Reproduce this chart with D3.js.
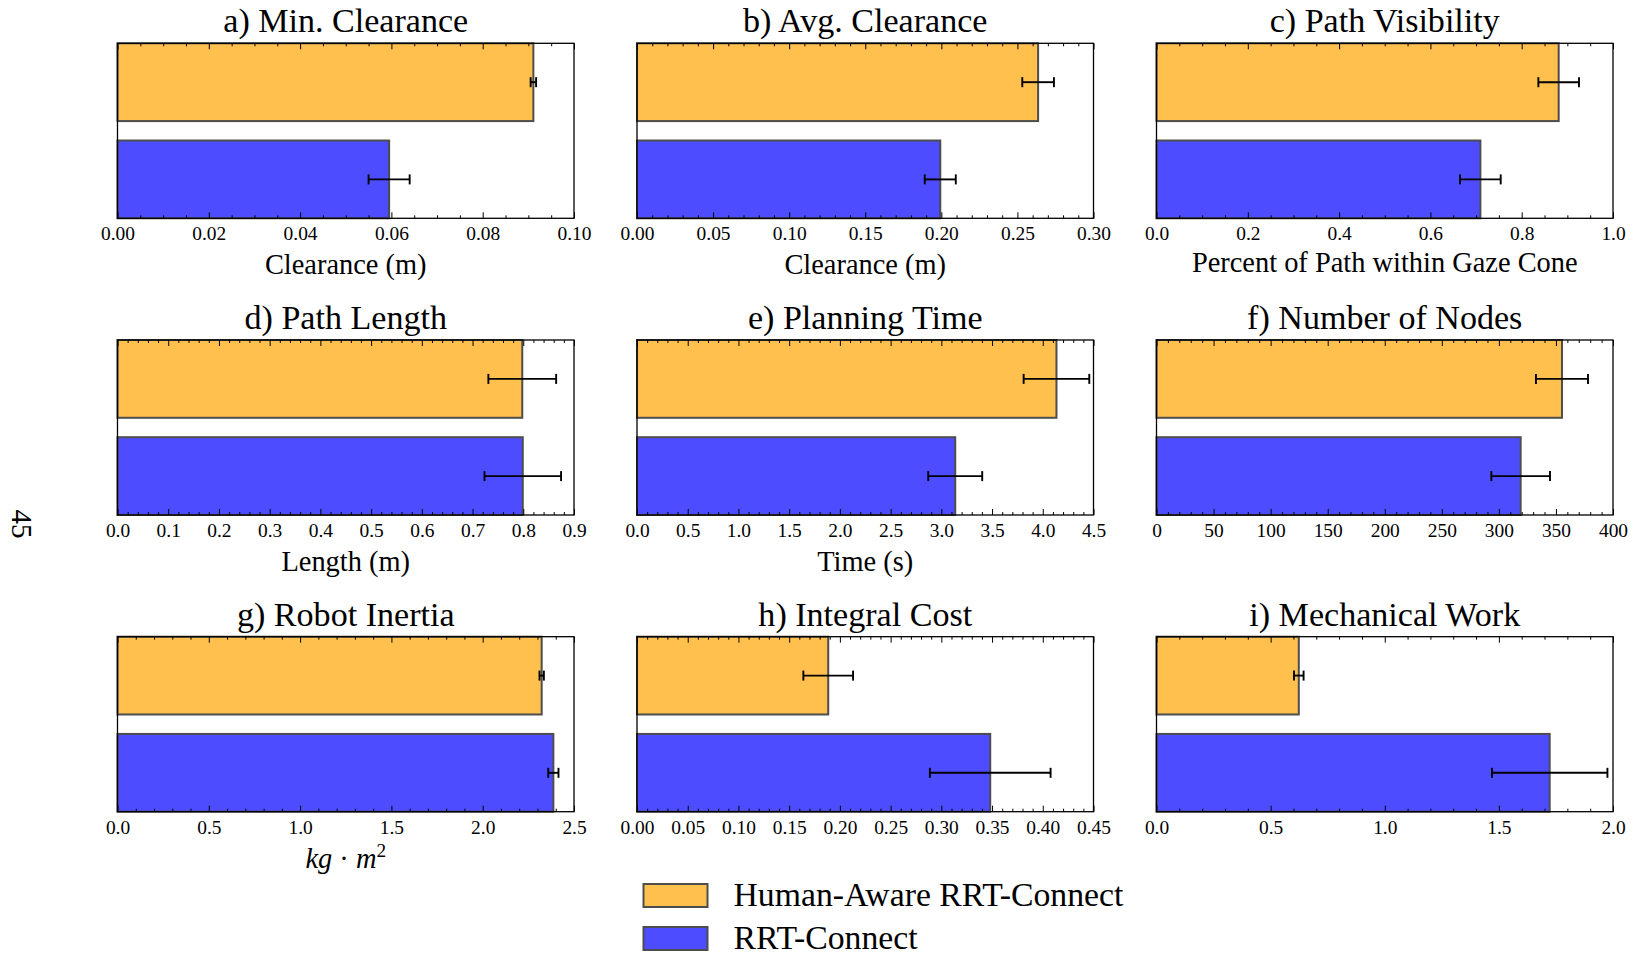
<!DOCTYPE html>
<html>
<head>
<meta charset="utf-8">
<script src="https://cdn.jsdelivr.net/npm/d3@7"></script>
<style>
  html, body { margin: 0; padding: 0; background: #fff; }
  svg { display: block; }
</style>
</head>
<body>
<div id="chart"></div>
<script>
// panel info
const panelTitles = ["a) Min. Clearance", "b) Avg. Clearance", "c) Path Visibility",
  "d) Path Length", "e) Planning Time", "f) Number of Nodes",
  "g) Robot Inertia", "h) Integral Cost", "i) Mechanical Work"];
const xLabels = ["Clearance (m)", "Clearance (m)", "Percent of Path within Gaze Cone",
  "Length (m)", "Time (s)", "", "kg·m2", "", ""];
const xMax = [0.10, 0.30, 1.0, 0.9, 4.5, 400, 2.5, 0.45, 2.0];
const majorStep = [0.02, 0.05, 0.2, 0.1, 0.5, 50, 0.5, 0.05, 0.5];
const minorDivs = [4, 5, 4, 5, 5, 5, 5, 5, 5];
const tickDecimals = [2, 2, 1, 1, 1, 0, 1, 2, 1];

// series
const seriesNames = ["Human-Aware RRT-Connect", "RRT-Connect"];
const humanAwareMean = [0.0911, 0.2636, 0.881, 0.798, 4.135, 355.3, 2.323, 0.1885, 0.6234];
const humanAwareErr  = [0.0006, 0.0104, 0.0445, 0.0668, 0.3235, 22.8, 0.012, 0.0245, 0.021];
const rrtMean = [0.0595, 0.1993, 0.7095, 0.799, 3.137, 319.1, 2.387, 0.3482, 1.7226];
const rrtErr  = [0.0045, 0.0102, 0.0445, 0.0755, 0.266, 25.7, 0.028, 0.0595, 0.253];

const W = 1635, H = 956;
const colors = ["#ffc04d", "#4d4dff"];
const edgeColor = "#4d4d4d";
const FONT = '"Liberation Serif", "DejaVu Serif", serif';

const colLeft = [117.5, 637, 1156.5];
const rowTop = [43.3, 340, 636.7];
const axW = 456.5, axH = 175;

const svg = d3.select("#chart").append("svg").attr("width", W).attr("height", H);

// size each text role so a sample string gets the width it has in the reference
const probe = svg.append("text").attr("font-family", FONT).attr("font-size", 100);
function sizeFor(sample, targetW) {
  probe.text(sample);
  return 100 * targetW / probe.node().getComputedTextLength();
}
const titleSize = sizeFor("a) Min. Clearance", 245);
const labelSize = sizeFor("Percent of Path within Gaze Cone", 386);
const tickSize = sizeFor("0.00", 34);
const legendSize = sizeFor("Human-Aware RRT-Connect", 390);
probe.remove();

panelTitles.forEach((title, i) => {
  const x0 = colLeft[i % 3], y0 = rowTop[Math.floor(i / 3)];
  const g = svg.append("g").attr("transform", `translate(${x0},${y0})`);

  const x = d3.scaleLinear().domain([0, xMax[i]]).range([0, axW]);
  const y = d3.scaleLinear().domain([-0.4, 1.4]).range([axH, 0]);

  // bars: HA at y=1, RRT at y=0
  const bars = [
    { pos: 1, v: humanAwareMean[i], e: humanAwareErr[i], c: colors[0] },
    { pos: 0, v: rrtMean[i], e: rrtErr[i], c: colors[1] }
  ];
  g.selectAll("rect.bar").data(bars).join("rect")
    .attr("class", "bar")
    .attr("x", x(0))
    .attr("y", d => y(d.pos + 0.4))
    .attr("width", d => x(d.v) - x(0))
    .attr("height", d => y(d.pos - 0.4) - y(d.pos + 0.4))
    .attr("fill", d => d.c)
    .attr("stroke", edgeColor)
    .attr("stroke-width", 2);

  // error bars
  const eb = g.selectAll("g.err").data(bars).join("g").attr("class", "err")
    .attr("stroke", "#000").attr("stroke-width", 1.9);
  eb.append("line")
    .attr("x1", d => x(d.v - d.e)).attr("x2", d => x(d.v + d.e))
    .attr("y1", d => y(d.pos)).attr("y2", d => y(d.pos));
  [-1, 1].forEach(s => {
    eb.append("line")
      .attr("x1", d => x(d.v + s * d.e)).attr("x2", d => x(d.v + s * d.e))
      .attr("y1", d => y(d.pos) - 5).attr("y2", d => y(d.pos) + 5);
  });

  // ticks, inward on top and bottom
  const nMajor = Math.round(xMax[i] / majorStep[i]);
  const majors = d3.range(nMajor + 1).map(k => k * majorStep[i]);
  const minorStep = majorStep[i] / minorDivs[i];
  const minors = d3.range(nMajor * minorDivs[i] + 1).map(k => k * minorStep)
    .filter((v, k) => k % minorDivs[i] !== 0);
  const fmt = d3.format(`.${tickDecimals[i]}f`);

  const axB = g.append("g").attr("transform", `translate(0,${axH})`)
    .call(d3.axisBottom(x).tickValues(majors).tickFormat(fmt).tickSizeInner(-6).tickSizeOuter(0).tickPadding(0));
  g.append("g").attr("transform", `translate(0,${axH})`)
    .call(d3.axisBottom(x).tickValues(minors).tickFormat("").tickSizeInner(-3).tickSizeOuter(0));
  g.append("g")
    .call(d3.axisTop(x).tickValues(majors).tickFormat("").tickSizeInner(-6).tickSizeOuter(0));
  g.append("g")
    .call(d3.axisTop(x).tickValues(minors).tickFormat("").tickSizeInner(-3).tickSizeOuter(0));
  g.selectAll(".domain").remove();
  g.selectAll(".tick line").attr("stroke", "#000").attr("stroke-width", 1);
  axB.selectAll("text").attr("font-family", FONT).attr("font-size", tickSize)
    .attr("fill", "#000").attr("dy", null).attr("y", 22);

  // frame
  g.append("rect").attr("x", 0).attr("y", 0).attr("width", axW).attr("height", axH)
    .attr("fill", "none").attr("stroke", "#000").attr("stroke-width", 1.3);

  // title
  g.append("text").attr("x", axW / 2).attr("y", -11)
    .attr("text-anchor", "middle").attr("font-family", FONT).attr("font-size", titleSize).text(title);

  // x label
  if (xLabels[i] === "kg·m2") {
    const t = g.append("text").attr("x", axW / 2).attr("y", axH + 56)
      .attr("text-anchor", "middle").attr("font-family", FONT).attr("font-size", labelSize);
    t.append("tspan").attr("font-style", "italic").text("kg");
    t.append("tspan").text(" · ");
    t.append("tspan").attr("font-style", "italic").text("m");
    t.append("tspan").attr("font-size", labelSize * 0.68).attr("dy", -11).text("2");
  } else if (xLabels[i]) {
    g.append("text").attr("x", axW / 2).attr("y", axH + (i === 2 ? 54 : 56))
      .attr("text-anchor", "middle").attr("font-family", FONT).attr("font-size", labelSize).text(xLabels[i]);
  }
});

// legend
const leg = svg.append("g").attr("transform", "translate(643.5,884)");
seriesNames.forEach((name, k) => {
  leg.append("rect").attr("x", 0).attr("y", k * 43).attr("width", 64).attr("height", 23)
    .attr("fill", colors[k]).attr("stroke", edgeColor).attr("stroke-width", 2);
  leg.append("text").attr("x", 90).attr("y", k * 43 + 22)
    .attr("font-family", FONT).attr("font-size", legendSize).text(name);
});

// page number
svg.append("text").attr("transform", "translate(12,524) rotate(90)")
  .attr("text-anchor", "middle").attr("font-family", FONT).attr("font-size", 29).text("45");
</script>
</body>
</html>
